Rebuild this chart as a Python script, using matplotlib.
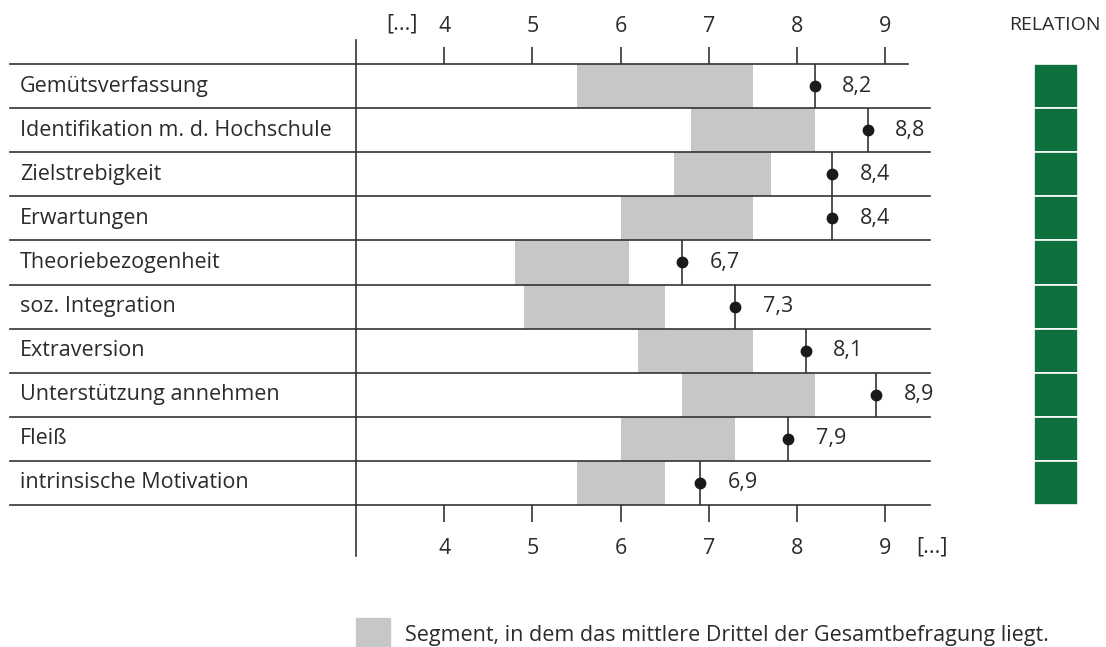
import matplotlib.pyplot as plt
from matplotlib.patches import Rectangle

plt.rcParams['font.family'] = ['Open Sans', 'DejaVu Sans']

# data
labels = ['Gemütsverfassung', 'Identifikation m. d. Hochschule', 'Zielstrebigkeit',
          'Erwartungen', 'Theoriebezogenheit', 'soz. Integration', 'Extraversion',
          'Unterstützung annehmen', 'Fleiß', 'intrinsische Motivation']
seg_lo = [5.5, 6.8, 6.6, 6.0, 4.8, 4.9, 6.2, 6.7, 6.0, 5.5]
seg_hi = [7.5, 8.2, 7.7, 7.5, 6.1, 6.5, 7.5, 8.2, 7.3, 6.5]
values = [8.2, 8.8, 8.4, 8.4, 6.7, 7.3, 8.1, 8.9, 7.9, 6.9]
ticks = [4, 5, 6, 7, 8, 9]

W, H = 1106, 647
txt = '#2b2b2b'
line_c = '#333333'
gray = '#c6c7c9'
green = '#0e703c'
fs = 15.5

fig = plt.figure(figsize=(W / 100, H / 100), dpi=100)

# main axes: x pixel 356..930, y pixel 64..505
x0, x1, y0, y1 = 356, 930, 64, 505
ax = fig.add_axes([x0 / W, 1 - y1 / H, (x1 - x0) / W, (y1 - y0) / H])
ax.set_xlim(3, 3 + (x1 - x0) / 88.2)
n = len(labels)
ax.set_ylim(n, 0)
for s in ax.spines.values():
    s.set_visible(False)

rows = list(range(n))
ax.barh([r + 0.5 for r in rows], [h - l for l, h in zip(seg_lo, seg_hi)],
        left=seg_lo, height=1, color=gray, zorder=1)

# row lines
ytr = ax.get_yaxis_transform()
left_frac = (10 - x0) / (x1 - x0)
for r in range(n + 1):
    right = (908 - x0) / (x1 - x0) if r == 0 else 1.0
    ax.plot([left_frac, right], [r, r], color=line_c, lw=1.2, transform=ytr,
            clip_on=False, zorder=3)

# main vertical axis line
ax.axvline(3, ymin=(y1 - 556) / (y1 - y0), ymax=(y1 - 40) / (y1 - y0),
           color=line_c, lw=1.2, clip_on=False, zorder=3)

# value markers
for r, v in zip(rows, values):
    ax.vlines(v, r, r + 1, color=line_c, lw=1.2, zorder=3)
    ax.plot(v, r + 0.5, 'o', color='#1a1a1a', ms=7.5, zorder=4)
    ax.text(v + 0.31, r + 0.5, f'{v:.1f}'.replace('.', ','), fontsize=fs,
            color=txt, va='center', ha='left')

# row labels
for r, lab in zip(rows, labels):
    ax.text((20 - x0) / (x1 - x0), r + 0.5, lab, transform=ytr, fontsize=fs,
            color=txt, va='center', ha='left')

# ticks bottom
ax.set_yticks([])
ax.set_xticks(ticks)
ax.set_xticklabels([str(t) for t in ticks])
ax.tick_params(axis='x', length=17 * 0.72, width=1.2, color=line_c, labelsize=fs,
               labelcolor=txt, direction='out', pad=16 * 0.72)

# ticks top
top = ax.secondary_xaxis('top')
top.set_xticks(ticks)
top.set_xticklabels([str(t) for t in ticks])
top.spines['top'].set_visible(False)
top.tick_params(length=17 * 0.72, width=1.2, color=line_c, labelsize=fs,
                labelcolor=txt, direction='out', pad=10 * 0.72)

# unit markers
fig.text(402 / W, 1 - 24 / H, '[...]', fontsize=fs, color=txt, ha='center', va='center')
fig.text(932 / W, 1 - 547 / H, '[...]', fontsize=fs, color=txt, ha='center', va='center')

# relation column
ax2 = fig.add_axes([1034 / W, 1 - y1 / H, 44 / W, (y1 - y0) / H])
ax2.barh([r + 0.5 for r in rows], [1] * n, height=1, color=green,
         edgecolor='white', linewidth=1.2)
ax2.set_xlim(0, 1)
ax2.set_ylim(n, 0)
ax2.axis('off')
fig.text(1055 / W, 1 - 25 / H, 'RELATION', fontsize=14, color=txt, ha='center', va='center')

# legend
fig.patches.append(Rectangle((356 / W, 0), 34 / W, 29 / H, transform=fig.transFigure,
                             color=gray))
fig.text(405 / W, 1 - 636 / H, 'Segment, in dem das mittlere Drittel der Gesamtbefragung liegt.',
         fontsize=fs, color=txt, ha='left', va='center')

fig.savefig('out.png', dpi=100)
